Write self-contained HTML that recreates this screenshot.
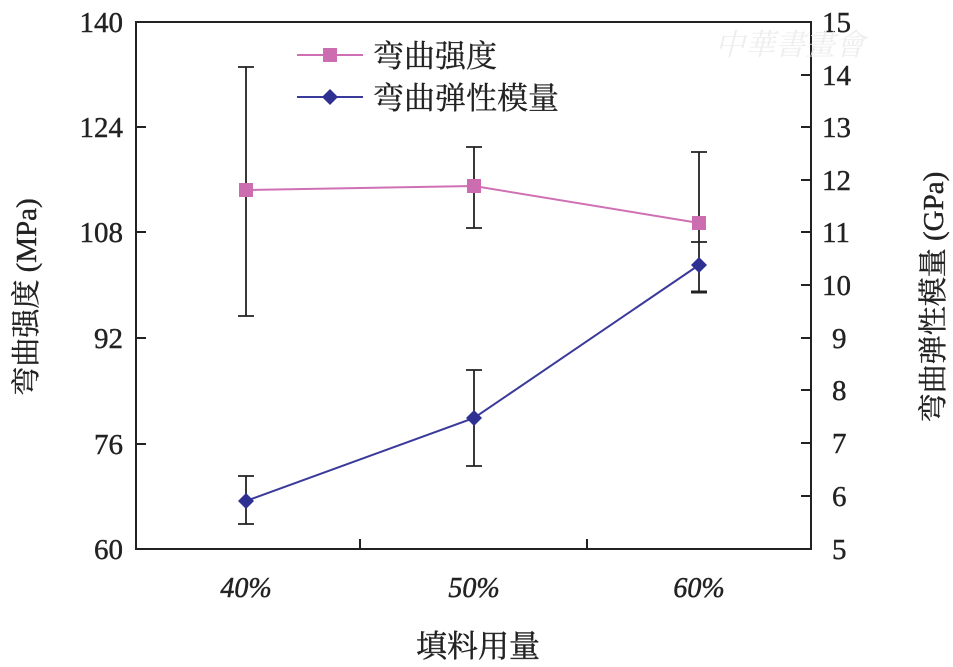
<!DOCTYPE html>
<html><head><meta charset="utf-8"><style>body{margin:0;background:#fff}svg{display:block}</style></head><body>
<svg width="953" height="667" viewBox="0 0 953 667" xmlns="http://www.w3.org/2000/svg" font-family="Liberation Serif, Noto Serif CJK SC, serif">
<rect width="953" height="667" fill="#fff"/>
<g stroke="#222" stroke-width="2" fill="none">
<rect x="136" y="22" width="675" height="527"/>
<path d="M136 127h10M136 232h10M136 338h10M136 444h10"/>
<path d="M811 75h-10M811 127h-10M811 180h-10M811 232h-10M811 285h-10M811 338h-10M811 390h-10M811 443h-10M811 496h-10"/>
<path d="M360 549v-10M587 549v-10"/>
</g>
<g font-size="29" fill="#222" text-anchor="end" stroke="#222" stroke-width="0.4">
<text x="123" y="32">140</text><text x="123" y="137">124</text><text x="123" y="242">108</text><text x="123" y="348">92</text><text x="123" y="454">76</text><text x="123" y="559">60</text>
</g>
<g font-size="29" fill="#222" text-anchor="start" stroke="#222" stroke-width="0.4">
<text x="822" y="32">15</text><text x="822" y="85">14</text><text x="822" y="137">13</text><text x="822" y="190">12</text><text x="822" y="242">11</text><text x="822" y="295">10</text><text x="832" y="348">9</text><text x="832" y="400">8</text><text x="832" y="453">7</text><text x="832" y="506">6</text><text x="832" y="559">5</text>
</g>
<g font-size="28" fill="#222" text-anchor="middle" font-style="italic" stroke="#222" stroke-width="0.5">
<text x="246" y="597">40%</text><text x="474" y="597">50%</text><text x="699" y="597">60%</text>
</g>
<text x="478" y="657" font-size="31" fill="#222" text-anchor="middle" stroke="#222" stroke-width="0.4">填料用量</text>
<text transform="translate(36 297) rotate(-90)" font-size="29" fill="#222" text-anchor="middle" stroke="#222" stroke-width="0.4">弯曲强度 (MPa)</text>
<text transform="translate(943 297) rotate(-90)" font-size="29" fill="#222" text-anchor="middle" stroke="#222" stroke-width="0.4">弯曲弹性模量 (GPa)</text>
<text x="790" y="55" font-size="30" fill="#eee" text-anchor="middle" font-style="italic">中華書畫會</text>
<g stroke="#222" stroke-width="1.8">
<path d="M246 67V316M238 67h16M238 316h16"/>
<path d="M474 147V228M466 147h16M466 228h16"/>
<path d="M699 152V292M691 152h16M691 242h16"/>
<path d="M246 476V524M238 476h16M238 524h16"/>
<path d="M474 370V466M466 370h16M466 466h16"/>
<path d="M691 292h16" stroke-width="3"/>
</g>
<polyline points="246,190 474,186 699,223" fill="none" stroke="#d070b4" stroke-width="2"/>
<g fill="#cc6db0"><rect x="239" y="183" width="14" height="14"/><rect x="467" y="179" width="14" height="14"/><rect x="692" y="216" width="14" height="14"/></g>
<polyline points="246,501 474,418 699,265" fill="none" stroke="#3a3a9a" stroke-width="2"/>
<g fill="#2e3192"><path d="M246 493l8 8-8 8-8-8z"/><path d="M474 410l8 8-8 8-8-8z"/><path d="M699 257l8 8-8 8-8-8z"/></g>
<line x1="297" y1="55" x2="363" y2="55" stroke="#d070b4" stroke-width="2"/>
<rect x="323" y="48" width="14" height="14" fill="#cc6db0"/>
<line x1="297" y1="97" x2="363" y2="97" stroke="#3a3a9a" stroke-width="2"/>
<path d="M330 89l8 8-8 8-8-8z" fill="#2e3192"/>
<text x="373" y="67" font-size="31" fill="#222" stroke="#222" stroke-width="0.3">弯曲强度</text>
<text x="373" y="109" font-size="31" fill="#222" stroke="#222" stroke-width="0.3">弯曲弹性模量</text>
</svg>
</body></html>
